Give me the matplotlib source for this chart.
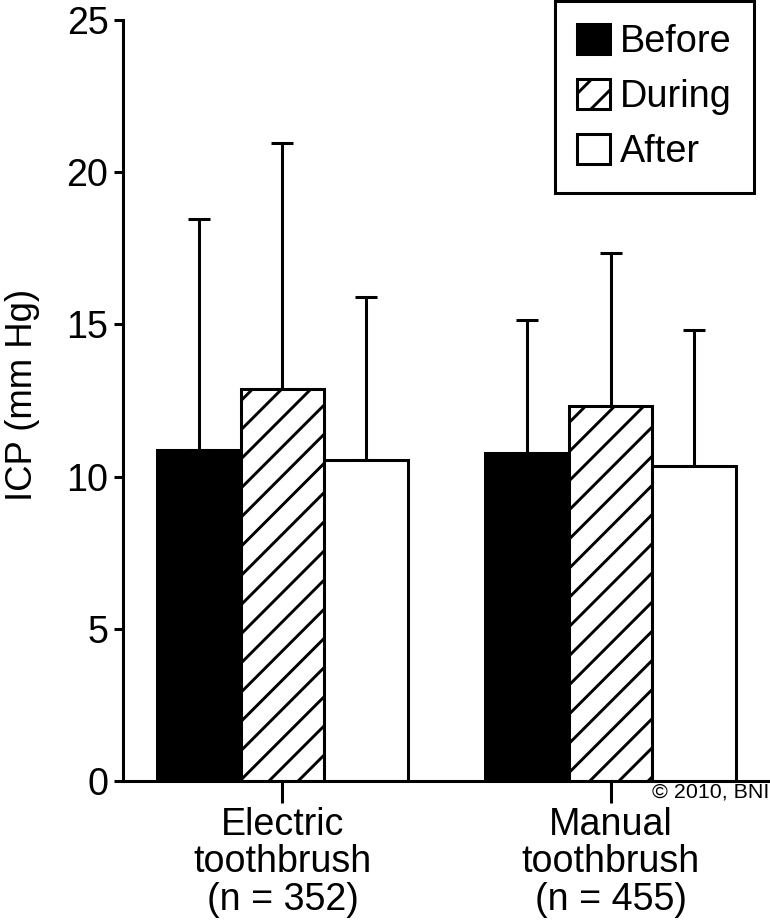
import matplotlib

matplotlib.use("Agg")
import matplotlib.pyplot as plt
import numpy as np

# values
groups = ["Electric\ntoothbrush\n(n = 352)", "Manual\ntoothbrush\n(n = 455)"]
phases = ["Before", "During", "After"]
icp_mean = {
    "Before": [10.89, 10.77],
    "During": [12.88, 12.33],
    "After": [10.56, 10.35],
}
icp_sd = {
    "Before": [7.56, 4.38],
    "During": [8.09, 5.02],
    "After": [5.33, 4.47],
}
yticks = [0, 5, 10, 15, 20, 25]

DPI = 175
plt.rcParams["font.family"] = ["Liberation Sans", "DejaVu Sans"]
plt.rcParams["hatch.linewidth"] = 1.2
plt.rcParams["hatch.color"] = "black"

fig = plt.figure(figsize=(770 / DPI, 923 / DPI), dpi=DPI)
ax = fig.add_axes([123 / 770, 1 - 781 / 923, 1 - 123 / 770, (781 - 20) / 923])

styles = {
    "Before": dict(facecolor="black", hatch=None),
    "During": dict(facecolor="white", hatch="//"),
    "After": dict(facecolor="white", hatch=None),
}

x = np.arange(len(groups))
width = 0.2546
lw = 1.25

for i, ph in enumerate(phases):
    pos = x + (i - 1) * width
    mean = np.array(icp_mean[ph])
    sd = np.array(icp_sd[ph])
    ax.bar(
        pos,
        mean,
        width,
        color=styles[ph]["facecolor"],
        edgecolor="black",
        linewidth=lw,
        hatch=styles[ph]["hatch"],
        label=ph,
        zorder=2,
    )
    ax.errorbar(
        pos,
        mean,
        yerr=[np.zeros_like(sd), sd],
        fmt="none",
        ecolor="black",
        elinewidth=lw,
        capsize=4.6,
        capthick=lw,
        zorder=1,
    )

ax.set_xlim(-0.486, 1.486)
ax.set_ylim(0, 25)
ax.set_yticks(yticks)
ax.set_xticks(x, groups, linespacing=1.06)

for side in ["top", "right"]:
    ax.spines[side].set_visible(False)
for side in ["left", "bottom"]:
    ax.spines[side].set_linewidth(lw)

ax.tick_params(axis="y", length=3.5, width=lw, pad=2.5, labelsize=15.5)
ax.tick_params(axis="x", length=9, width=lw, pad=1.5, labelsize=15.5)

ax.set_ylabel("ICP (mm Hg)", fontsize=15)
ax.yaxis.set_label_coords(-0.128, 0.507)

leg = ax.legend(
    loc="upper right",
    bbox_to_anchor=(754 / 770, 1 - 1 / 923),
    bbox_transform=fig.transFigure,
    fontsize=15.6,
    frameon=True,
    fancybox=False,
    shadow=False,
    borderpad=0.6,
    handlelength=0.85,
    handleheight=0.85,
    handletextpad=0.26,
    labelspacing=0.5,
    borderaxespad=0,
)
leg.get_frame().set_edgecolor("black")
leg.get_frame().set_linewidth(lw)
leg.get_frame().set_alpha(None)

fig.text(1 - 1 / 770, 1 - 783 / 923, "\u00a9 2010, BNI", ha="right", va="top", fontsize=8.8)

fig.savefig("out.png", dpi=DPI)
